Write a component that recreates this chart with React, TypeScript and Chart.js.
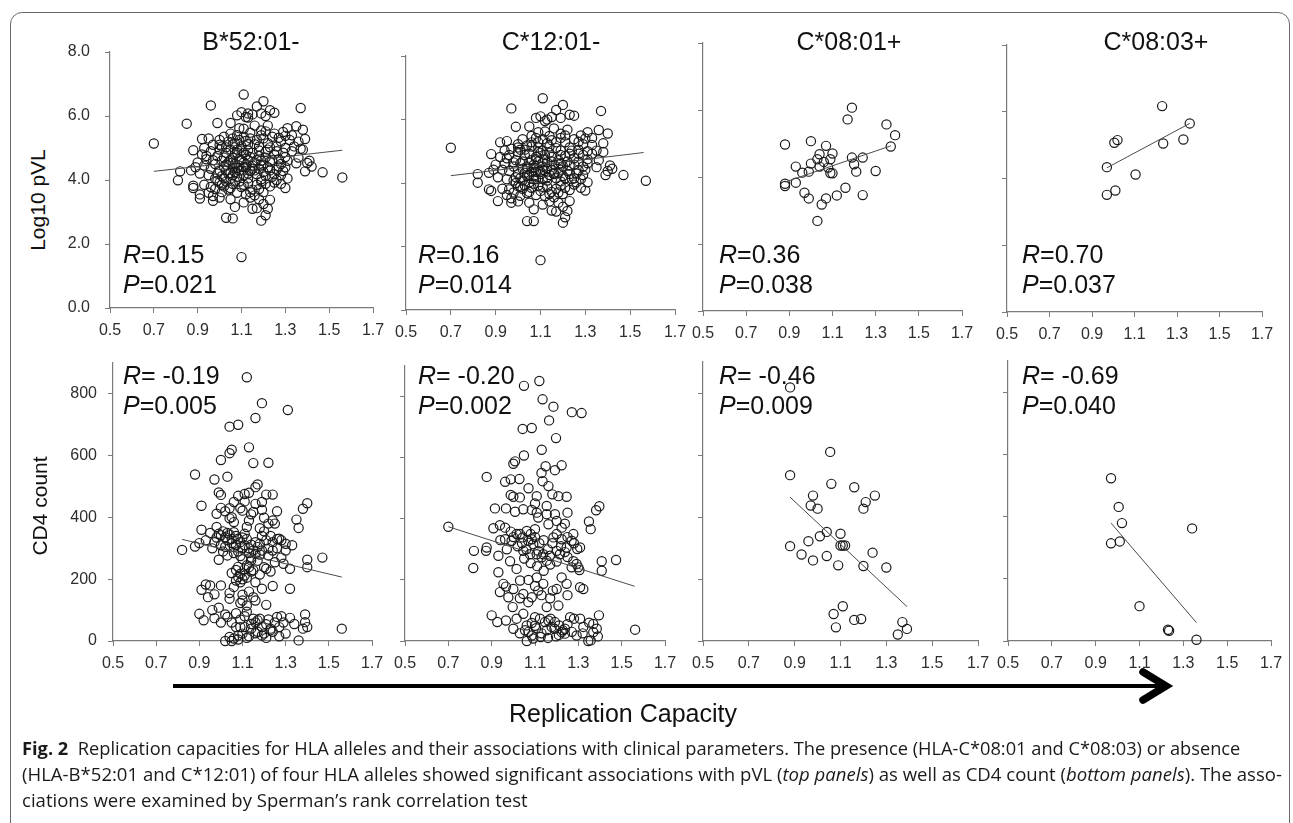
import React, { useEffect, useLayoutEffect, useRef } from 'react';
import { Chart, registerables } from 'chart.js';
Chart.register(...registerables);

const FONT = '"Liberation Sans", Arial, Helvetica, sans-serif';

// ---------- tick values ----------
const xTickValues = [0.5, 0.7, 0.9, 1.1, 1.3, 1.5, 1.7];
const vlTickValues = [0, 2, 4, 6, 8];
const cd4TickValues = [0, 200, 400, 600, 800];

// ---------- titles / stats ----------
const alleleTitles = ['B*52:01-', 'C*12:01-', 'C*08:01+', 'C*08:03+'];
const vlStatsR = ['0.15', '0.16', '0.36', '0.70'];
const vlStatsP = ['0.021', '0.014', '0.038', '0.037'];
const cd4StatsR = [' -0.19', ' -0.20', ' -0.46', ' -0.69'];
const cd4StatsP = ['0.005', '0.002', '0.009', '0.040'];

// ---------- Log10 pVL vs replication capacity ----------
const vlB5201 = [
  [1.11,6.67],[1.20,6.46],[0.96,6.33],[1.37,6.25],[1.17,6.30],[1.23,6.18],[1.25,6.10],[1.10,6.12],[1.13,6.08],[1.15,6.05],[1.08,6.02],[1.12,5.97],[1.13,5.95],[1.19,6.08],[1.21,6.00],
  [0.85,5.76],[0.99,5.78],[1.05,5.78],[1.09,5.62],[1.11,5.60],[1.16,5.70],[1.19,5.55],[1.22,5.70],[1.29,5.50],[1.31,5.62],[1.33,5.40],[1.35,5.68],[1.38,5.57],[1.14,5.48],[1.25,5.45],
  [0.88,4.93],[0.92,5.28],[0.95,5.30],[0.97,5.10],[1.00,5.25],[1.02,5.35],[1.04,5.20],[1.06,5.30],[1.07,5.15],[1.08,5.40],[1.10,5.05],[1.12,5.22],[1.14,5.30],[1.16,5.12],[1.18,5.05],[1.20,5.30],[1.22,5.15],[1.24,5.35],[1.26,5.05],[1.28,5.20],[1.30,5.00],[1.32,5.25],[1.34,5.05],[1.37,4.98],[1.39,5.28],[1.36,5.20],[0.93,5.00],[1.01,5.05],[1.05,5.45],
  [0.70,5.14],
  [0.90,4.55],[0.92,4.80],[0.94,4.65],[0.96,4.90],[0.98,4.50],[0.99,4.75],[1.01,4.60],[1.03,4.85],[1.04,4.55],[1.05,4.95],[1.06,4.70],[1.07,4.50],[1.08,4.85],[1.09,4.65],[1.10,4.92],[1.11,4.55],[1.12,4.78],[1.13,4.62],[1.15,4.85],[1.16,4.55],[1.18,4.75],[1.19,4.60],[1.21,4.88],[1.23,4.58],[1.25,4.80],[1.27,4.65],[1.29,4.85],[1.31,4.60],[1.33,4.90],[1.36,4.70],[1.38,4.95],[1.40,4.53],[1.41,4.60],[1.35,4.52],
  [0.81,3.99],[0.82,4.27],[0.87,4.30],[0.89,4.40],[0.91,4.20],[0.93,4.45],[0.95,4.15],[0.96,4.35],[0.98,4.05],[1.00,4.30],[1.01,4.12],[1.02,4.42],[1.04,4.20],[1.05,4.05],[1.06,4.38],[1.07,4.25],[1.08,4.10],[1.09,4.45],[1.10,4.30],[1.11,4.15],[1.12,4.40],[1.13,4.05],[1.14,4.28],[1.15,4.45],[1.17,4.18],[1.18,4.35],[1.19,4.02],[1.20,4.25],[1.22,4.40],[1.24,4.10],[1.26,4.32],[1.28,4.15],[1.30,4.40],[1.31,4.05],[1.39,4.27],[1.47,4.24],[1.56,4.08],[1.42,4.42],
  [0.88,3.82],[0.88,3.75],[0.91,3.55],[0.93,3.85],[0.95,3.60],[0.97,3.50],[0.98,3.72],[1.00,3.92],[1.01,3.62],[1.02,3.80],[1.03,3.95],[1.04,3.70],[1.06,3.88],[1.08,3.60],[1.09,3.95],[1.10,3.78],[1.12,3.55],[1.13,3.90],[1.15,3.70],[1.16,3.52],[1.17,3.85],[1.19,3.95],[1.20,3.62],[1.23,3.80],[1.25,3.92],[1.28,3.88],[1.30,3.75],[1.26,4.00],
  [0.91,3.42],[0.97,3.35],[1.00,3.45],[1.05,3.40],[1.07,3.16],[1.11,3.30],[1.14,3.45],[1.15,3.10],[1.17,3.12],[1.18,3.40],[1.22,3.10],[1.23,3.38],[1.20,3.25],
  [1.03,2.82],[1.06,2.80],[1.19,2.73],[1.21,2.90],[1.10,1.59],
  [0.94,4.75],[0.97,4.62],[1.00,4.95],[1.02,4.70],[1.03,4.48],[1.05,4.62],[1.06,4.55],[1.07,4.80],[1.08,4.95],[1.09,4.30],[1.10,4.62],[1.11,4.85],[1.12,4.48],[1.13,4.92],[1.14,4.72],[1.15,4.35],[1.17,4.62],[1.18,4.92],[1.20,4.48],[1.21,4.70],[1.22,4.95],[1.24,4.62],[1.26,4.90],[1.28,4.50],[1.30,4.72],
  [0.99,4.20],[1.02,4.05],[1.03,4.30],[1.05,4.22],[1.06,4.15],[1.08,4.38],[1.11,4.40],[1.13,4.20],[1.16,4.30],[1.19,4.45],[1.21,4.12],[1.23,4.30],[1.25,4.18],[1.27,4.42],[1.29,4.28],
  [1.00,5.10],[1.03,5.02],[1.06,5.12],[1.09,5.25],[1.11,5.35],[1.13,5.12],[1.17,5.25],[1.19,5.40],[1.21,5.52],[1.23,5.02],[1.27,5.32],[1.30,5.38],
  [1.01,3.85],[1.05,3.75],[1.07,3.95],[1.11,3.85],[1.14,3.62],[1.18,3.72],[1.21,3.88],[0.96,3.78],[0.99,3.98],
];
const vlB5201Trend = [[0.70,4.27],[1.56,4.93]];

const vlC1201 = [
  [0.70,5.11],[0.82,4.28],[0.82,4.01],[0.88,4.91],[0.97,6.35],[0.99,5.77],[1.11,6.67],[1.20,6.46],[1.37,6.27],[1.10,1.57],[1.04,2.80],[1.07,2.80],[1.20,2.75],[1.47,4.25],[1.57,4.07],[1.40,5.56],[1.36,5.67],[0.91,3.43],[0.87,3.80],[1.07,3.17],[1.15,3.13],[1.23,3.43],[1.30,3.76],[1.40,4.38],
  [1.05,5.78],[1.09,5.60],[1.12,5.62],[1.16,5.72],[1.19,5.55],[1.22,5.68],[1.28,5.50],[1.31,5.60],[1.33,5.42],
  [1.08,6.05],[1.10,6.10],[1.13,6.00],[1.15,6.08],[1.17,6.30],[1.23,6.15],[1.25,6.12],[1.12,5.95],[1.19,6.05],
  [0.92,5.28],[0.95,5.32],[0.97,5.08],[1.00,5.22],[1.02,5.38],[1.04,5.18],[1.06,5.28],[1.08,5.42],[1.09,5.12],[1.11,5.02],[1.13,5.25],[1.15,5.35],[1.17,5.10],[1.19,5.02],[1.21,5.28],[1.23,5.12],[1.25,5.38],[1.27,5.05],[1.29,5.22],[1.31,5.00],[1.33,5.20],[1.35,5.02],[1.38,5.25],[0.94,5.02],[1.01,5.05],[1.06,5.48],[1.14,5.48],
  [0.90,4.58],[0.92,4.82],[0.94,4.62],[0.96,4.88],[0.98,4.52],[0.99,4.72],[1.01,4.62],[1.03,4.88],[1.04,4.52],[1.05,4.92],[1.06,4.72],[1.07,4.48],[1.08,4.82],[1.09,4.68],[1.10,4.95],[1.11,4.52],[1.12,4.75],[1.13,4.65],[1.15,4.82],[1.16,4.58],[1.18,4.72],[1.19,4.62],[1.21,4.85],[1.23,4.55],[1.25,4.78],[1.27,4.68],[1.29,4.88],[1.31,4.62],[1.33,4.92],[1.36,4.72],[1.38,4.98],[1.41,4.55],[1.35,4.50],
  [0.87,4.32],[0.89,4.42],[0.91,4.18],[0.93,4.42],[0.95,4.12],[0.96,4.38],[0.98,4.08],[1.00,4.28],[1.01,4.15],[1.02,4.45],[1.04,4.22],[1.05,4.02],[1.06,4.35],[1.07,4.22],[1.08,4.12],[1.09,4.42],[1.10,4.28],[1.11,4.12],[1.12,4.38],[1.13,4.08],[1.14,4.25],[1.15,4.42],[1.17,4.15],[1.18,4.32],[1.19,4.05],[1.20,4.22],[1.22,4.38],[1.24,4.12],[1.26,4.30],[1.28,4.12],[1.30,4.42],[1.31,4.02],[1.39,4.25],[1.42,4.45],
  [0.88,3.75],[0.93,3.82],[0.95,3.62],[0.97,3.52],[0.98,3.70],[1.00,3.90],[1.01,3.60],[1.02,3.82],[1.03,3.92],[1.04,3.68],[1.06,3.85],[1.08,3.62],[1.09,3.92],[1.10,3.75],[1.12,3.58],[1.13,3.88],[1.15,3.72],[1.16,3.55],[1.17,3.82],[1.19,3.92],[1.20,3.65],[1.23,3.78],[1.25,3.95],[1.28,3.85],[1.26,4.02],
  [0.97,3.38],[1.00,3.42],[1.05,3.38],[1.11,3.32],[1.14,3.42],[1.17,3.10],[1.18,3.38],[1.22,3.12],[1.20,3.25],[1.21,2.92],
  [0.95,4.78],[0.98,4.65],[1.00,4.98],[1.02,4.68],[1.04,4.45],[1.05,4.65],[1.07,4.58],[1.08,4.75],[1.09,4.98],[1.10,4.35],[1.11,4.65],[1.12,4.88],[1.13,4.45],[1.14,4.95],[1.15,4.68],[1.16,4.32],[1.18,4.58],[1.19,4.88],[1.20,4.52],[1.22,4.68],[1.23,4.92],[1.25,4.58],[1.27,4.92],[1.29,4.52],[1.31,4.75],
  [0.99,4.18],[1.02,4.08],[1.03,4.32],[1.05,4.25],[1.07,4.12],[1.08,4.35],[1.11,4.42],[1.13,4.18],[1.16,4.28],[1.19,4.42],[1.21,4.15],[1.23,4.28],[1.25,4.15],[1.27,4.40],[1.29,4.25],
  [1.00,5.12],[1.03,5.05],[1.06,5.15],[1.09,5.28],[1.11,5.38],[1.14,5.15],[1.17,5.28],[1.19,5.42],[1.21,5.50],[1.24,5.02],[1.27,5.30],[1.30,5.40],
  [1.01,3.88],[1.05,3.72],[1.07,3.98],[1.11,3.88],[1.14,3.65],[1.18,3.70],[1.21,3.85],[0.96,3.80],[0.99,4.00],
];
const vlC1201Trend = [[0.70,4.23],[1.56,4.96]];

const vlC0801 = [
  [0.88,4.97],[0.88,3.80],[0.88,3.73],[0.93,3.83],[0.93,4.31],[0.96,4.13],[0.97,3.53],[0.99,3.36],[0.99,4.16],[1.00,5.07],[1.00,4.40],[1.03,2.69],[1.03,4.53],[1.04,4.68],[1.04,4.31],[1.05,3.18],[1.07,4.93],[1.07,3.36],[1.08,4.28],[1.09,4.53],[1.10,4.70],[1.10,4.11],[1.12,3.45],[1.16,3.68],[1.17,5.72],[1.19,6.07],[1.19,4.58],[1.20,4.38],[1.21,4.16],[1.24,3.46],[1.24,4.58],[1.30,4.18],[1.35,5.57],[1.37,4.91],[1.39,5.25],[1.06,4.45],[1.09,4.12],
];
const vlC0801Trend = [[0.88,3.85],[1.37,4.93]];

const vlC0803 = [
  [1.23,6.17],[1.36,5.65],[1.33,5.17],[1.235,5.05],[1.005,5.07],[1.02,5.15],[0.97,4.34],[1.105,4.12],[0.97,3.51],[1.01,3.64],
];
const vlC0803Trend = [[0.97,4.32],[1.36,5.65]];

// ---------- CD4 count vs replication capacity ----------
const cd4B5201 = [
  [1.12,854],[1.19,770],[1.31,748],[1.16,722],[1.04,694],[1.08,700],[1.13,627],[1.04,608],[1.05,619],[1.00,586],[1.15,576],[1.22,577],[0.88,539],[0.97,523],[1.03,532],[0.99,481],[1.00,473],[1.17,507],[1.16,498],[1.11,476],[1.21,474],[1.24,474],[1.16,444],[1.11,452],[0.91,438],[0.98,412],[1.00,431],[1.04,430],[1.09,430],[1.10,422],[1.15,418],[1.14,410],[1.19,425],[1.20,399],[1.24,390],[1.40,446],[1.38,428],[1.35,393],[1.36,366],[0.91,360],[0.98,369],[1.04,397],[1.05,401],
  [0.82,295],[0.88,306],[0.90,317],[0.93,326],[0.97,320],[0.99,347],[1.00,342],[1.02,336],[1.03,326],[1.05,317],[1.06,304],[1.08,331],[1.09,320],[1.11,347],[1.12,369],[1.15,293],[1.16,282],[1.17,304],[1.19,293],[1.21,326],[1.22,277],[1.24,293],[1.27,331],[1.28,326],[1.30,315],[1.30,293],[1.32,234],[1.40,239],[1.40,263],[1.47,270],[0.99,263],[1.03,277],[1.12,245],[1.13,239],[1.14,261],[1.15,229],[1.20,239],[1.21,234],[1.08,207],[1.07,196],[1.09,218],[1.11,212],
  [0.95,350],[1.01,355],[1.04,345],[1.06,352],[1.07,310],[1.10,300],[1.12,330],[1.14,312],[1.18,315],[1.20,355],[1.23,340],[1.25,380],[1.26,300],[1.28,270],[1.29,250],[1.10,265],[1.13,285],[1.17,260],[1.08,240],[1.11,232],[1.06,285],[1.02,305],[1.25,255],[1.33,310],[1.18,365],[1.22,380],
  [0.91,166],[0.93,183],[0.95,180],[1.00,180],[0.94,142],[0.97,151],[1.04,155],[1.04,137],[1.09,123],[1.10,131],[1.12,115],[1.15,142],[1.16,131],[1.19,169],[1.21,117],[1.24,178],[1.32,169],[1.06,175],[1.13,160],[1.10,150],
  [0.90,88],[0.92,67],[0.97,74],[1.02,86],[1.03,78],[0.99,108],[1.07,90],[1.11,80],[1.15,72],[1.17,67],[1.18,72],[1.21,54],[1.26,78],[1.28,80],[1.32,75],[1.39,86],[1.39,61],[1.40,45],[1.56,40],[1.02,0],[1.05,0],[1.04,13],[1.08,18],[1.10,24],[1.13,15],[1.07,45],[1.09,45],[1.11,45],[1.19,18],[1.20,24],[1.23,35],[1.23,40],[1.27,45],[1.30,24],[1.36,2],[1.06,8],[1.16,60],[1.14,55],[1.24,30],
  [0.96,300],[0.98,335],[1.00,310],[1.01,290],[1.03,350],[1.05,330],[1.07,340],[1.08,290],[1.09,275],[1.10,335],[1.11,310],[1.13,300],[1.14,270],[1.16,320],[1.18,280],[1.19,340],[1.22,300],[1.24,320],[1.26,330],
  [1.05,220],[1.07,230],[1.09,190],[1.10,200],[1.12,205],[1.14,225],[1.16,190],[1.18,215],[1.23,225],
  [0.96,100],[1.00,60],[1.05,60],[1.09,70],[1.12,95],[1.14,40],[1.17,30],[1.19,45],[1.22,70],[1.25,60],[1.29,60],[1.34,55],[1.38,40],[1.08,5],[1.12,10],[1.16,25],[1.21,10],[1.27,15],
  [1.02,420],[1.06,450],[1.08,470],[1.13,480],[1.19,450],[1.26,420],[1.06,385],[1.13,390],
];
const cd4B5201Trend = [[0.82,329],[1.56,207]];

const cd4C1201 = [
  [0.70,374],[0.818,295],[0.815,239],[0.877,537],[1.049,835],[1.12,851],[1.135,791],[1.185,767],[1.27,749],[1.315,746],[1.043,694],[1.085,697],[1.165,722],[1.197,664],[1.131,626],[1.008,588],[1.0,580],[1.049,607],[1.149,572],[1.192,559],[1.223,575],[0.962,521],[0.988,529],[1.028,530],[1.135,523],[1.162,507],[0.988,478],[1.0,472],[1.108,474],[1.154,442],[1.208,474],[1.246,472],[1.397,441],[1.382,428],[1.349,391],[1.357,366],[0.915,434],[0.966,434],[1.008,423],[1.046,431],[1.085,429],[1.115,404],[1.154,415],[1.2,393],[1.238,384],
  [0.908,369],[0.938,379],[0.962,371],[0.988,358],[1.015,350],[1.043,339],[1.069,328],[1.092,317],[1.115,295],[1.138,284],[1.169,279],[1.2,295],[1.223,333],[1.246,306],[1.269,328],[1.295,301],[1.308,306],[1.305,232],[1.3,241],
  [0.877,306],[0.874,295],[0.931,279],[0.985,261],[1.015,236],[1.108,284],[1.131,274],[1.154,263],[1.215,284],[1.238,291],[1.277,261],[1.292,252],[1.408,261],[1.408,230],[1.474,265],[1.323,170],
  [1.031,350],[1.062,360],[1.085,333],[1.1,366],[0.962,333],[0.992,328],[1.046,295],[1.077,284],[1.185,339],[1.223,371],[1.277,350],[1.162,382],[1.192,415],[1.108,420],
  [0.931,225],[0.954,187],[0.966,178],[0.938,160],[0.977,143],[1.0,170],[1.031,198],[1.046,154],[1.069,127],[1.085,143],[1.108,208],[1.115,165],[1.138,187],[1.154,111],[1.182,165],[1.208,116],[1.223,208],[1.246,187],[1.269,241],[1.046,89],[0.997,111],[1.308,176],
  [0.9,84],[0.926,62],[0.966,67],[1.015,73],[1.062,51],[1.085,59],[1.1,78],[1.123,73],[1.146,62],[1.162,67],[1.172,73],[1.192,62],[1.211,51],[1.228,35],[1.238,40],[1.262,78],[1.28,73],[1.308,73],[1.323,46],[1.369,56],[1.385,40],[1.395,84],[1.369,29],[1.357,2],[1.346,0],[1.292,18],[1.197,15],[1.238,24],[1.223,29],[1.126,13],[1.092,8],[1.085,18],[1.062,0],[1.054,35],[1.105,42],[1.562,37],[1.154,35],[1.177,46],
  [0.94,330],[0.97,300],[1.00,340],[1.02,310],[1.04,320],[1.06,300],[1.08,350],[1.10,340],[1.12,320],[1.14,330],[1.16,300],[1.18,320],[1.20,350],[1.22,310],[1.25,340],[1.28,320],[1.05,270],[1.08,255],[1.11,245],[1.14,230],[1.17,250],[1.20,260],[1.25,275],
  [1.07,200],[1.10,180],[1.13,150],[1.17,140],[1.20,170],[1.03,140],[1.25,150],
  [1.00,40],[1.03,25],[1.07,30],[1.10,50],[1.13,25],[1.16,10],[1.19,40],[1.21,20],[1.25,55],[1.27,30],[1.32,25],[1.35,60],[1.39,15],
  [1.03,470],[1.07,500],[1.10,450],[1.18,480],[1.25,420],[1.13,550],
];
const cd4C1201Trend = [[0.70,374],[1.56,179]];

const cd4C0801 = [
  [0.88,818],[0.88,535],[0.88,306],[0.98,469],[0.97,437],[1.00,427],[0.96,322],[0.93,279],[0.98,260],[1.04,274],[1.01,338],[1.04,352],[1.055,610],[1.06,507],[1.16,496],[1.25,469],[1.21,448],[1.20,427],[1.10,346],[1.10,308],[1.11,308],[1.12,308],[1.09,244],[1.20,242],[1.24,285],[1.30,237],[1.11,112],[1.07,87],[1.08,44],[1.16,68],[1.19,71],[1.37,61],[1.39,39],[1.35,21],
];
const cd4C0801Trend = [[0.88,464],[1.39,111]];

const cd4C0803 = [
  [0.97,523],[1.005,431],[1.02,379],[0.97,314],[1.01,320],[1.34,362],[1.10,112],[1.23,36],[1.235,33],[1.36,4],
];
const cd4C0803Trend = [[0.97,379],[1.36,59]];

// ---------- caption ----------
const captionLine1 = 'Replication capacities for HLA alleles and their associations with clinical parameters. The presence (HLA-C*08:01 and C*08:03) or absence';
const captionLine2a = '(HLA-B*52:01 and C*12:01) of four HLA alleles showed significant associations with pVL (';
const captionLine2b = 'top panels';
const captionLine2c = ') as well as CD4 count (';
const captionLine2d = 'bottom panels';
const captionLine2e = '). The asso-';
const captionLine3 = 'ciations were examined by Sperman\u2019s rank correlation test';

type Area = { L: number; R: number; T: number; B: number };
type PanelSpec = {
  points: number[][];
  trend: number[][];
  area: Area;
  kind: 'vl' | 'cd4';
  yLabels: boolean;
};

const YW = 60, PT = 14, PR = 24, XH = 44;
const AXIS = '#7a7a7a';

const panels: PanelSpec[] = [
  { points: vlB5201, trend: vlB5201Trend, area: { L: 110, R: 373, T: 52, B: 308 }, kind: 'vl', yLabels: true },
  { points: vlC1201, trend: vlC1201Trend, area: { L: 406, R: 675, T: 56, B: 310 }, kind: 'vl', yLabels: false },
  { points: vlC0801, trend: vlC0801Trend, area: { L: 703, R: 962, T: 43, B: 311 }, kind: 'vl', yLabels: false },
  { points: vlC0803, trend: vlC0803Trend, area: { L: 1007, R: 1262, T: 45, B: 312 }, kind: 'vl', yLabels: false },
  { points: cd4B5201, trend: cd4B5201Trend, area: { L: 113, R: 372, T: 363, B: 641 }, kind: 'cd4', yLabels: true },
  { points: cd4C1201, trend: cd4C1201Trend, area: { L: 405, R: 665, T: 366, B: 641 }, kind: 'cd4', yLabels: false },
  { points: cd4C0801, trend: cd4C0801Trend, area: { L: 703, R: 978, T: 362, B: 641 }, kind: 'cd4', yLabels: false },
  { points: cd4C0803, trend: cd4C0803Trend, area: { L: 1008, R: 1271, T: 361, B: 641 }, kind: 'cd4', yLabels: false },
];

function Panel({ spec }: { spec: PanelSpec }) {
  const ref = useRef<HTMLCanvasElement>(null);
  const { L, R, T, B } = spec.area;
  const w = R - L + YW + PR;
  const h = B - T + PT + XH;
  useEffect(() => {
    const isVL = spec.kind === 'vl';
    const yTicks = isVL ? vlTickValues : cd4TickValues;
    const chart = new Chart(ref.current as HTMLCanvasElement, {
      type: 'scatter',
      data: {
        datasets: [
          {
            type: 'line',
            data: spec.trend.map(([x, y]) => ({ x, y })),
            borderColor: '#4a4a4a',
            borderWidth: 1,
            pointRadius: 0,
            fill: false,
            clip: false,
          } as any,
          {
            type: 'scatter',
            data: spec.points.map(([x, y]) => ({ x, y })),
            pointRadius: 4.6,
            pointBorderWidth: 1.2,
            pointBorderColor: '#1a1a1a',
            pointBackgroundColor: 'rgba(0,0,0,0)',
            borderColor: '#1a1a1a',
            backgroundColor: 'rgba(0,0,0,0)',
            clip: false,
          } as any,
        ],
      },
      options: {
        responsive: false,
        animation: false,
        events: [],
        layout: { padding: { top: PT, right: PR, left: 0, bottom: 0 } },
        plugins: { legend: { display: false }, tooltip: { enabled: false } },
        scales: {
          x: {
            type: 'linear',
            min: 0.5,
            max: 1.7,
            afterBuildTicks: (s: any) => { s.ticks = xTickValues.map((v) => ({ value: v })); },
            afterFit: (s: any) => { s.height = XH; s.paddingLeft = 0; s.paddingRight = 0; },
            ticks: {
              callback: (v: any) => Number(v).toFixed(1),
              font: { family: FONT, size: 16 },
              color: '#2e2e2e',
              padding: 8,
              maxRotation: 0,
              autoSkip: false,
            },
            grid: { display: true, drawOnChartArea: false, drawTicks: true, tickLength: 5, color: AXIS, lineWidth: 1 },
            border: { display: true, color: AXIS, width: 1.2 },
          },
          y: {
            type: 'linear',
            min: 0,
            max: isVL ? 8 : 900,
            afterBuildTicks: (s: any) => { s.ticks = yTicks.map((v) => ({ value: v })); },
            afterFit: (s: any) => { s.width = YW; s.paddingTop = 0; s.paddingBottom = 0; },
            ticks: {
              display: spec.yLabels,
              callback: (v: any) => (isVL ? Number(v).toFixed(1) : String(v)),
              font: { family: FONT, size: 16 },
              color: '#2e2e2e',
              padding: isVL ? 15 : 11,
              autoSkip: false,
            },
            grid: { display: true, drawOnChartArea: false, drawTicks: true, tickLength: 5, color: AXIS, lineWidth: 1 },
            border: { display: true, color: AXIS, width: 1.2 },
          },
        },
      } as any,
    });
    return () => chart.destroy();
  }, []);
  return (
    <canvas
      ref={ref}
      width={w}
      height={h}
      style={{ position: 'absolute', left: L - YW, top: T - PT, width: w, height: h }}
    />
  );
}

const titleCenters = [251, 551, 849, 1156];
const statLefts = [123, 418, 719, 1022];

function StatText({ left, top, r, p }: { left: number; top: number; r: string; p: string }) {
  return (
    <div style={{ position: 'absolute', left, top, fontFamily: FONT, fontSize: 25, lineHeight: '30.5px', color: '#111', whiteSpace: 'pre' }}>
      <div><i>R</i>={r}</div>
      <div><i>P</i>={p}</div>
    </div>
  );
}

function CaptionLine({ top, target, scaleFrom, children, id }: any) {
  const ref = useRef<HTMLDivElement>(null);
  useLayoutEffect(() => {
    const el = ref.current;
    if (!el) return;
    const wNat = el.scrollWidth;
    let s = 1;
    if (target) s = target / wNat;
    else if (scaleFrom) {
      const other = document.getElementById(scaleFrom);
      if (other) s = parseFloat(other.dataset.scale || '1');
    }
    el.dataset.scale = String(s);
    el.style.transform = `scaleX(${s})`;
  });
  return (
    <div
      id={id}
      ref={ref}
      style={{
        position: 'absolute', left: 22, top, fontFamily: '"Open Sans", "Noto Sans", sans-serif', fontSize: 17.5,
        lineHeight: '26px', color: '#1a1a1a', whiteSpace: 'pre', transformOrigin: '0 0', display: 'inline-block',
      }}
    >
      {children}
    </div>
  );
}

export default function App() {
  return (
    <div style={{ position: 'absolute', left: 0, top: 0, width: 1293, height: 823, overflow: 'hidden', background: '#fff' }}>
      {/* frame */}
      <div style={{ position: 'absolute', left: 10, top: 12, width: 1280, height: 900, border: '1.5px solid #6a6a6a', borderRadius: 12, boxSizing: 'border-box' }} />

      {panels.map((p, i) => <Panel key={i} spec={p} />)}

      {alleleTitles.map((t, i) => (
        <div key={t} style={{ position: 'absolute', left: titleCenters[i], top: 26, transform: 'translateX(-50%)', fontFamily: FONT, fontSize: 25, lineHeight: '30px', color: '#111', whiteSpace: 'nowrap' }}>{t}</div>
      ))}

      {statLefts.map((x, i) => <StatText key={'v' + i} left={x} top={238.5} r={vlStatsR[i]} p={vlStatsP[i]} />)}
      {statLefts.map((x, i) => <StatText key={'c' + i} left={x} top={359.5} r={cd4StatsR[i]} p={cd4StatsP[i]} />)}

      <div style={{ position: 'absolute', left: 38, top: 200, transform: 'translate(-50%,-50%) rotate(-90deg)', fontFamily: FONT, fontSize: 21, color: '#111', whiteSpace: 'nowrap' }}>Log10 pVL</div>
      <div style={{ position: 'absolute', left: 40, top: 506, transform: 'translate(-50%,-50%) rotate(-90deg)', fontFamily: FONT, fontSize: 21, color: '#111', whiteSpace: 'nowrap' }}>CD4 count</div>

      <svg width={1293} height={823} style={{ position: 'absolute', left: 0, top: 0, pointerEvents: 'none' }}>
        <line x1={173} y1={686} x2={1162} y2={686} stroke="#000" strokeWidth={4} />
        <polyline points="1143,672 1166,686 1143,700" fill="none" stroke="#000" strokeWidth={7.5} strokeLinecap="round" strokeLinejoin="miter" />
      </svg>

      <div style={{ position: 'absolute', left: 623, top: 698, transform: 'translateX(-50%)', fontFamily: FONT, fontSize: 25, lineHeight: '30px', color: '#111', whiteSpace: 'nowrap' }}>Replication Capacity</div>

      <CaptionLine id="cap1" top={735} target={1218}>
        <b>Fig. 2</b>{'  ' + captionLine1}
      </CaptionLine>
      <CaptionLine id="cap2" top={761} target={1260}>
        {captionLine2a}<i>{captionLine2b}</i>{captionLine2c}<i>{captionLine2d}</i>{captionLine2e}
      </CaptionLine>
      <CaptionLine id="cap3" top={787} scaleFrom="cap2">
        {captionLine3}
      </CaptionLine>
    </div>
  );
}
